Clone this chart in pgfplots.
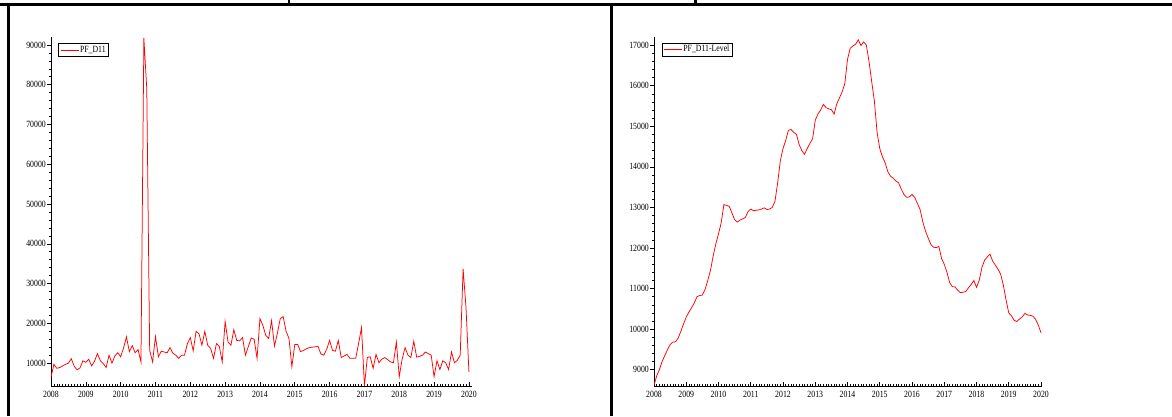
\documentclass[border=0pt]{standalone}
\usepackage{fontspec}
\setmainfont{Liberation Serif}
\usepackage{graphicx}
\usepackage{pgfplots}
\pgfplotsset{compat=1.18}
\usepackage{pgfplotstable}

\pgfplotstableread[row sep=\\]{v\\
6500\\ 9700\\ 8700\\ 8900\\ 9300\\ 9700\\ 10000\\ 11100\\ 9200\\ 8300\\ 8800\\ 10600\\
10200\\ 11000\\ 9300\\ 10500\\ 12400\\ 10600\\ 9900\\ 8900\\ 12000\\ 10000\\ 11800\\ 12600\\
11600\\ 13800\\ 16600\\ 12900\\ 14400\\ 12600\\ 13400\\ 10300\\ 91700\\ 79000\\ 13200\\ 10300\\
16700\\ 11600\\ 13000\\ 12800\\ 12600\\ 13900\\ 12500\\ 12000\\ 11200\\ 12000\\ 12000\\ 14900\\
16400\\ 13100\\ 18000\\ 17400\\ 14500\\ 18000\\ 14500\\ 13700\\ 11200\\ 14900\\ 14200\\ 10300\\
20500\\ 15300\\ 14500\\ 18400\\ 15700\\ 15600\\ 16400\\ 12000\\ 14200\\ 16300\\ 16000\\ 11200\\
21200\\ 19500\\ 17000\\ 16200\\ 20700\\ 14300\\ 17500\\ 21200\\ 21700\\ 18000\\ 16200\\ 9100\\
14700\\ 14700\\ 12900\\ 13200\\ 13600\\ 13900\\ 14000\\ 14100\\ 14200\\ 12300\\ 12000\\ 13500\\
15700\\ 13200\\ 13000\\ 15700\\ 11400\\ 11800\\ 12200\\ 11200\\ 11200\\ 11200\\ 15000\\ 18900\\
4300\\ 11400\\ 11600\\ 8700\\ 12200\\ 10100\\ 11000\\ 11400\\ 10900\\ 10300\\ 10100\\ 15300\\
6600\\ 11000\\ 13900\\ 12000\\ 11400\\ 15500\\ 11500\\ 11700\\ 12000\\ 12800\\ 12400\\ 12000\\
6600\\ 10600\\ 8400\\ 10600\\ 10100\\ 8400\\ 12800\\ 10100\\ 10700\\ 12000\\ 33700\\ 24000\\
7800\\
}\leftdata

\pgfplotstableread[row sep=\\]{v\\
8620\\ 8850\\ 9000\\ 9200\\ 9350\\ 9490\\ 9620\\ 9680\\ 9690\\ 9780\\ 9950\\ 10130\\
10300\\ 10420\\ 10530\\ 10650\\ 10800\\ 10830\\ 10840\\ 10980\\ 11200\\ 11450\\ 11800\\ 12100\\
12350\\ 12620\\ 13070\\ 13050\\ 13030\\ 12860\\ 12700\\ 12640\\ 12690\\ 12720\\ 12750\\ 12900\\
12960\\ 12920\\ 12930\\ 12940\\ 12960\\ 12990\\ 12950\\ 12960\\ 13000\\ 13150\\ 13600\\ 14150\\
14450\\ 14650\\ 14900\\ 14920\\ 14850\\ 14800\\ 14550\\ 14400\\ 14310\\ 14450\\ 14580\\ 14690\\
15150\\ 15300\\ 15400\\ 15540\\ 15460\\ 15430\\ 15410\\ 15300\\ 15550\\ 15700\\ 15850\\ 16050\\
16650\\ 16920\\ 16980\\ 17020\\ 17130\\ 16990\\ 17080\\ 17000\\ 16600\\ 16100\\ 15620\\ 14850\\
14450\\ 14250\\ 14100\\ 13880\\ 13770\\ 13720\\ 13650\\ 13610\\ 13450\\ 13320\\ 13250\\ 13260\\
13320\\ 13250\\ 13100\\ 12950\\ 12650\\ 12420\\ 12250\\ 12090\\ 12020\\ 12010\\ 12040\\ 11740\\
11600\\ 11400\\ 11150\\ 11050\\ 11040\\ 10960\\ 10900\\ 10910\\ 10930\\ 11020\\ 11100\\ 11200\\
11030\\ 11200\\ 11520\\ 11700\\ 11780\\ 11850\\ 11680\\ 11580\\ 11480\\ 11350\\ 11080\\ 10720\\
10400\\ 10330\\ 10220\\ 10190\\ 10250\\ 10300\\ 10390\\ 10350\\ 10340\\ 10320\\ 10240\\ 10100\\
9910\\
}\rightdata

\newcommand{\sq}[1]{\scalebox{0.82}[1]{#1}}

\pgfplotsset{
  oxstyle/.style={
    scale only axis,
    height=349pt,
    axis lines=left,
    axis line style={-, line width=0.8pt, black},
    xtick align=inside,
    ytick align=outside,
    major tick length=3.8pt,
    minor tick length=1.8pt,
    tick style={black, line width=0.6pt},
    scaled x ticks=false,
    scaled y ticks=false,
    xtick={2008,2009,2010,2011,2012,2013,2014,2015,2016,2017,2018,2019,2020},
    minor x tick num=11,
    minor y tick num=4,
    tick label style={font=\fontsize{9.5}{10}\selectfont},
    xticklabel={\sq{\pgfmathprintnumber[assume math mode=true,1000 sep={},fixed,precision=0]{\tick}}},
    yticklabel={\sq{\pgfmathprintnumber[assume math mode=true,1000 sep={},fixed,precision=0]{\tick}}},
    xticklabel style={yshift=-2pt},
    yticklabel style={inner sep=1.2pt},
    legend image code/.code={\draw[red, line width=0.9pt] (0pt,0pt) -- (18pt,0pt);},
    legend style={anchor=north west, draw=black, line width=0.6pt,
      inner xsep=1.5pt, inner ysep=1.5pt,
      font=\fontsize{9.5}{10}\selectfont,
      nodes={inner sep=1pt}},
  }
}

\begin{document}
\begin{tikzpicture}
\useasboundingbox (0pt,0pt) rectangle (1172pt,416pt);
\draw[line width=2.7pt] (0pt,411.7pt) -- (1172pt,411.7pt);
\draw[line width=2.7pt] (8.7pt,0pt) -- (8.7pt,413pt);
\draw[line width=2.7pt] (611.5pt,0pt) -- (611.5pt,413pt);
\draw[line width=2.5pt] (289pt,411pt) -- (289pt,416pt);
\draw[line width=2.5pt] (695.5pt,411pt) -- (695.5pt,416pt);

\begin{axis}[oxstyle,
  at={(51pt,30pt)}, anchor=south west,
  width=420.7pt,
  xmin=2008, xmax=2020.08,
  ymin=4250, ymax=92000,
  ytick={10000,20000,30000,40000,50000,60000,70000,80000,90000},
  legend style={at={(0.0174,0.982)}},
]
\addplot[red, line width=0.75pt] table[x expr={2008+\coordindex/12}, y=v] {\leftdata};
\addlegendentry{\sq{PF\_D11}}
\end{axis}

\begin{axis}[oxstyle,
  at={(654pt,30pt)}, anchor=south west,
  width=388.3pt,
  xmin=2008, xmax=2020.04,
  ymin=8600, ymax=17200,
  ytick={9000,10000,11000,12000,13000,14000,15000,16000,17000},
  legend style={at={(0.0198,0.984)}},
]
\addplot[red, line width=0.75pt] table[x expr={2008+\coordindex/12}, y=v] {\rightdata};
\addlegendentry{\sq{PF\_D11-Level}}
\end{axis}
\end{tikzpicture}
\end{document}
